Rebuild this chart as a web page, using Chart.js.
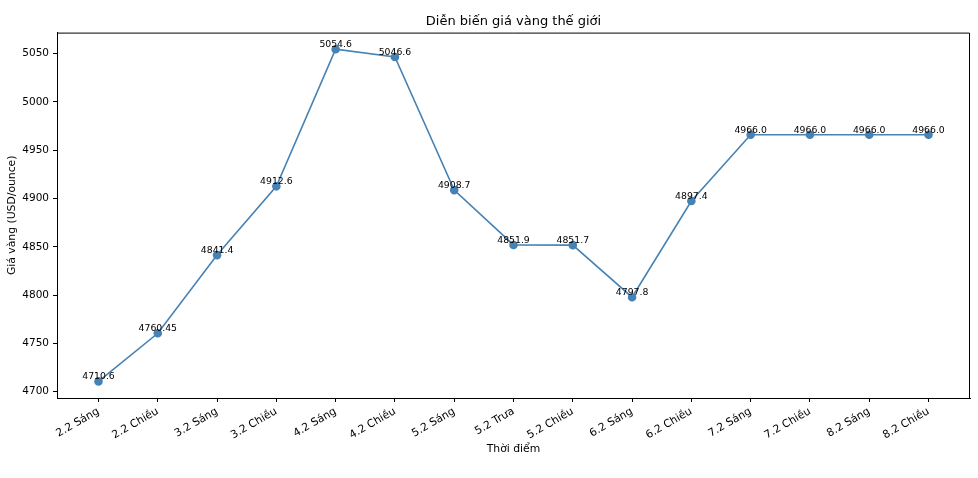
<!DOCTYPE html>
<html>
<head>
<meta charset="utf-8">
<script src="https://cdn.jsdelivr.net/npm/chart.js@4"></script>
<style>
  html, body { margin: 0; padding: 0; background: #fff; }
  #wrap { width: 978px; height: 478px; }
</style>
</head>
<body>
<div id="wrap"><canvas id="myChart"></canvas></div>
<script>
const thoiDiem = ['2.2 Sáng', '2.2 Chiều', '3.2 Sáng', '3.2 Chiều', '4.2 Sáng', '4.2 Chiều', '5.2 Sáng',
  '5.2 Trưa', '5.2 Chiều', '6.2 Sáng', '6.2 Chiều', '7.2 Sáng', '7.2 Chiều', '8.2 Sáng', '8.2 Chiều'];
const giaVang = [4710.6, 4760.45, 4841.4, 4912.6, 5054.6, 5046.6, 4908.7, 4851.9, 4851.7, 4797.8,
  4897.4, 4966.0, 4966.0, 4966.0, 4966.0];
const nhanGia = ['4710.6', '4760.45', '4841.4', '4912.6', '5054.6', '5046.6', '4908.7', '4851.9', '4851.7',
  '4797.8', '4897.4', '4966.0', '4966.0', '4966.0', '4966.0'];

const fontChu = 'DejaVu Sans';

// vẽ cạnh trên, cạnh phải và nhãn giá
const khungVaNhan = {
  id: 'khungVaNhan',
  afterDatasetsDraw(chart) {
    const { ctx, chartArea, scales } = chart;
    ctx.save();
    ctx.strokeStyle = '#000';
    ctx.lineWidth = 1;
    ctx.beginPath();
    ctx.moveTo(chartArea.left, chartArea.top + 0.5);
    ctx.lineTo(chartArea.right - 0.5, chartArea.top + 0.5);
    ctx.lineTo(chartArea.right - 0.5, chartArea.bottom);
    ctx.stroke();
    ctx.font = `9.3px "${fontChu}"`;
    ctx.fillStyle = '#000';
    ctx.textAlign = 'center';
    ctx.textBaseline = 'alphabetic';
    giaVang.forEach((v, i) => {
      const x = scales.x.getPixelForValue(i);
      const y = scales.y.getPixelForValue(v);
      ctx.fillText(nhanGia[i], x, y - 2);
    });
    ctx.restore();
  }
};

const lo = Math.min(...giaVang), hi = Math.max(...giaVang);
const le = (hi - lo) * 0.05;

new Chart(document.getElementById('myChart'), {
  type: 'line',
  data: {
    datasets: [{
      data: giaVang.map((v, i) => ({ x: i, y: v })),
      borderColor: '#4682b4',
      backgroundColor: '#4682b4',
      borderWidth: 1.6,
      pointRadius: 3.5,
      pointHoverRadius: 3.5,
      tension: 0,
    }],
  },
  options: {
    responsive: true,
    maintainAspectRatio: false,
    animation: false,
    layout: { padding: { left: 0, right: 8, top: 0, bottom: 0 } },
    plugins: {
      legend: { display: false },
      tooltip: { enabled: false },
      title: {
        display: true,
        fullSize: false,
        text: 'Diễn biến giá vàng thế giới',
        color: '#000',
        font: { family: fontChu, size: 13, weight: 'normal' },
        padding: { top: 14, bottom: 3 },
      },
    },
    scales: {
      x: {
        type: 'linear',
        min: -0.7,
        max: thoiDiem.length - 1 + 0.7,
        afterFit: (s) => { s.height = 80; },
        ticks: {
          stepSize: 1,
          includeBounds: false,
          autoSkip: false,
          maxRotation: 30,
          minRotation: 30,
          color: '#000',
          font: { family: fontChu, size: 10.8 },
          padding: 3,
          callback: (v) => thoiDiem[Math.round(v)],
        },
        grid: { color: 'rgba(0,0,0,0)', tickColor: '#000', tickLength: 4 },
        border: { display: true, color: '#000' },
        title: {
          display: true,
          text: 'Thời điểm',
          color: '#000',
          font: { family: fontChu, size: 10.8 },
          padding: { top: 0, bottom: 22 },
        },
      },
      y: {
        min: lo - le,
        max: hi + le,
        afterFit: (s) => { s.width = 57; },
        ticks: {
          stepSize: 50,
          includeBounds: false,
          color: '#000',
          font: { family: fontChu, size: 10.5 },
          padding: 4,
          callback: (v) => String(v),
        },
        grid: { color: 'rgba(0,0,0,0)', tickColor: '#000', tickLength: 4 },
        border: { display: true, color: '#000' },
        title: {
          display: true,
          text: 'Giá vàng (USD/ounce)',
          color: '#000',
          font: { family: fontChu, size: 10.8 },
          padding: { top: 6, bottom: 0 },
        },
      },
    },
  },
  plugins: [khungVaNhan],
});
</script>
</body>
</html>
